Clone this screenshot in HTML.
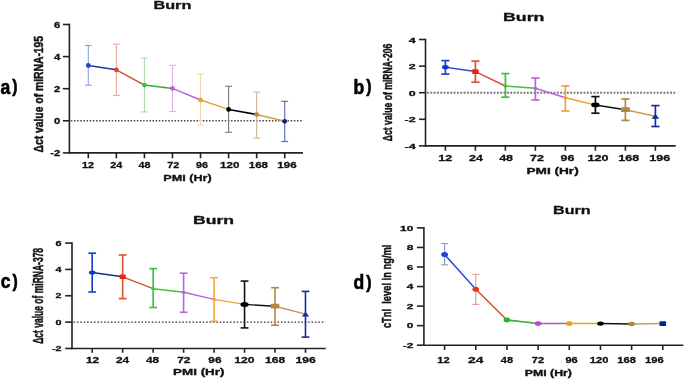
<!DOCTYPE html>
<html><head><meta charset="utf-8"><style>
html,body{margin:0;padding:0;background:#fff;}
svg{display:block;font-family:"Liberation Sans", sans-serif;will-change:transform;filter:blur(0.3px);}
</style></head><body>
<svg width="685" height="379" viewBox="0 0 685 379">
<rect width="685" height="379" fill="#fff"/>
<line x1="70.90" y1="120.80" x2="302.50" y2="120.80" stroke="#444" stroke-width="1.4" stroke-dasharray="1.5 1.64"/>
<line x1="88.30" y1="45.50" x2="88.30" y2="85.20" stroke="#8ea0e4" stroke-width="1.1"/>
<line x1="84.90" y1="45.50" x2="91.70" y2="45.50" stroke="#8ea0e4" stroke-width="1.1"/>
<line x1="84.90" y1="85.20" x2="91.70" y2="85.20" stroke="#8ea0e4" stroke-width="1.1"/>
<line x1="116.36" y1="44.20" x2="116.36" y2="95.50" stroke="#eaa898" stroke-width="1.1"/>
<line x1="112.96" y1="44.20" x2="119.76" y2="44.20" stroke="#eaa898" stroke-width="1.1"/>
<line x1="112.96" y1="95.50" x2="119.76" y2="95.50" stroke="#eaa898" stroke-width="1.1"/>
<line x1="144.42" y1="58.00" x2="144.42" y2="111.90" stroke="#a8dca8" stroke-width="1.1"/>
<line x1="141.02" y1="58.00" x2="147.82" y2="58.00" stroke="#a8dca8" stroke-width="1.1"/>
<line x1="141.02" y1="111.90" x2="147.82" y2="111.90" stroke="#a8dca8" stroke-width="1.1"/>
<line x1="172.48" y1="65.30" x2="172.48" y2="111.50" stroke="#dcb4ec" stroke-width="1.1"/>
<line x1="169.08" y1="65.30" x2="175.88" y2="65.30" stroke="#dcb4ec" stroke-width="1.1"/>
<line x1="169.08" y1="111.50" x2="175.88" y2="111.50" stroke="#dcb4ec" stroke-width="1.1"/>
<line x1="200.54" y1="73.90" x2="200.54" y2="125.00" stroke="#f5d4a8" stroke-width="1.1"/>
<line x1="197.14" y1="73.90" x2="203.94" y2="73.90" stroke="#f5d4a8" stroke-width="1.1"/>
<line x1="197.14" y1="125.00" x2="203.94" y2="125.00" stroke="#f5d4a8" stroke-width="1.1"/>
<line x1="228.60" y1="86.30" x2="228.60" y2="132.30" stroke="#777" stroke-width="1.1"/>
<line x1="225.20" y1="86.30" x2="232.00" y2="86.30" stroke="#777" stroke-width="1.1"/>
<line x1="225.20" y1="132.30" x2="232.00" y2="132.30" stroke="#777" stroke-width="1.1"/>
<line x1="256.66" y1="92.10" x2="256.66" y2="138.10" stroke="#cbb594" stroke-width="1.1"/>
<line x1="253.26" y1="92.10" x2="260.06" y2="92.10" stroke="#cbb594" stroke-width="1.1"/>
<line x1="253.26" y1="138.10" x2="260.06" y2="138.10" stroke="#cbb594" stroke-width="1.1"/>
<line x1="284.72" y1="101.30" x2="284.72" y2="141.50" stroke="#5565b5" stroke-width="1.1"/>
<line x1="281.32" y1="101.30" x2="288.12" y2="101.30" stroke="#5565b5" stroke-width="1.1"/>
<line x1="281.32" y1="141.50" x2="288.12" y2="141.50" stroke="#5565b5" stroke-width="1.1"/>
<line x1="88.30" y1="65.50" x2="116.36" y2="69.80" stroke="#1c3aa0" stroke-width="1.5" stroke-linecap="round"/>
<line x1="116.36" y1="69.80" x2="144.42" y2="85.10" stroke="#d84a30" stroke-width="1.5" stroke-linecap="round"/>
<line x1="144.42" y1="85.10" x2="172.48" y2="88.40" stroke="#2faa3a" stroke-width="1.5" stroke-linecap="round"/>
<line x1="172.48" y1="88.40" x2="200.54" y2="100.00" stroke="#c25ee0" stroke-width="1.5" stroke-linecap="round"/>
<line x1="200.54" y1="100.00" x2="228.60" y2="109.40" stroke="#e8a040" stroke-width="1.5" stroke-linecap="round"/>
<line x1="228.60" y1="109.40" x2="256.66" y2="114.50" stroke="#000" stroke-width="1.5" stroke-linecap="round"/>
<line x1="256.66" y1="114.50" x2="284.72" y2="121.30" stroke="#d0a050" stroke-width="1.5" stroke-linecap="round"/>
<circle cx="88.30" cy="65.50" r="2.4" fill="#2445d8"/>
<circle cx="116.36" cy="69.80" r="2.4" fill="#e83a20"/>
<circle cx="144.42" cy="85.10" r="2.4" fill="#3cc43c"/>
<circle cx="172.48" cy="88.40" r="2.4" fill="#c25ee0"/>
<circle cx="200.54" cy="100.00" r="2.4" fill="#f0a035"/>
<circle cx="228.60" cy="109.40" r="2.4" fill="#000"/>
<circle cx="256.66" cy="114.50" r="2.4" fill="#b8894a"/>
<circle cx="284.72" cy="121.30" r="2.4" fill="#0c2090"/>
<line x1="69.40" y1="23.70" x2="69.40" y2="153.70" stroke="#222" stroke-width="1.6"/>
<line x1="68.60" y1="152.90" x2="303.00" y2="152.90" stroke="#222" stroke-width="1.6"/>
<line x1="62.90" y1="24.50" x2="69.40" y2="24.50" stroke="#222" stroke-width="1.6"/>
<text x="60.3" y="27.599999999999987" font-size="8.3" font-weight="bold" text-anchor="end" fill="#111" stroke="#111" stroke-width="0.3" textLength="6.23" lengthAdjust="spacingAndGlyphs">6</text>
<line x1="62.90" y1="56.60" x2="69.40" y2="56.60" stroke="#222" stroke-width="1.6"/>
<text x="60.3" y="59.699999999999996" font-size="8.3" font-weight="bold" text-anchor="end" fill="#111" stroke="#111" stroke-width="0.3" textLength="6.23" lengthAdjust="spacingAndGlyphs">4</text>
<line x1="62.90" y1="88.70" x2="69.40" y2="88.70" stroke="#222" stroke-width="1.6"/>
<text x="60.3" y="91.79999999999998" font-size="8.3" font-weight="bold" text-anchor="end" fill="#111" stroke="#111" stroke-width="0.3" textLength="6.23" lengthAdjust="spacingAndGlyphs">2</text>
<line x1="62.90" y1="120.80" x2="69.40" y2="120.80" stroke="#222" stroke-width="1.6"/>
<text x="60.3" y="123.89999999999999" font-size="8.3" font-weight="bold" text-anchor="end" fill="#111" stroke="#111" stroke-width="0.3" textLength="6.23" lengthAdjust="spacingAndGlyphs">0</text>
<line x1="62.90" y1="152.90" x2="69.40" y2="152.90" stroke="#222" stroke-width="1.6"/>
<text x="60.3" y="156.0" font-size="8.3" font-weight="bold" text-anchor="end" fill="#111" stroke="#111" stroke-width="0.3" textLength="9.96" lengthAdjust="spacingAndGlyphs">-2</text>
<line x1="88.30" y1="152.90" x2="88.30" y2="158.30" stroke="#222" stroke-width="1.6"/>
<text x="88" y="167.6" font-size="9.7" font-weight="bold" text-anchor="middle" fill="#111" stroke="#111" stroke-width="0.3" textLength="12" lengthAdjust="spacingAndGlyphs">12</text>
<line x1="116.36" y1="152.90" x2="116.36" y2="158.30" stroke="#222" stroke-width="1.6"/>
<text x="116.2" y="167.6" font-size="9.7" font-weight="bold" text-anchor="middle" fill="#111" stroke="#111" stroke-width="0.3" textLength="12" lengthAdjust="spacingAndGlyphs">24</text>
<line x1="144.42" y1="152.90" x2="144.42" y2="158.30" stroke="#222" stroke-width="1.6"/>
<text x="144.5" y="167.6" font-size="9.7" font-weight="bold" text-anchor="middle" fill="#111" stroke="#111" stroke-width="0.3" textLength="12" lengthAdjust="spacingAndGlyphs">48</text>
<line x1="172.48" y1="152.90" x2="172.48" y2="158.30" stroke="#222" stroke-width="1.6"/>
<text x="173.3" y="167.6" font-size="9.7" font-weight="bold" text-anchor="middle" fill="#111" stroke="#111" stroke-width="0.3" textLength="12" lengthAdjust="spacingAndGlyphs">72</text>
<line x1="200.54" y1="152.90" x2="200.54" y2="158.30" stroke="#222" stroke-width="1.6"/>
<text x="201.9" y="167.6" font-size="9.7" font-weight="bold" text-anchor="middle" fill="#111" stroke="#111" stroke-width="0.3" textLength="12" lengthAdjust="spacingAndGlyphs">96</text>
<line x1="228.60" y1="152.90" x2="228.60" y2="158.30" stroke="#222" stroke-width="1.6"/>
<text x="229.7" y="167.6" font-size="9.7" font-weight="bold" text-anchor="middle" fill="#111" stroke="#111" stroke-width="0.3" textLength="19.3" lengthAdjust="spacingAndGlyphs">120</text>
<line x1="256.66" y1="152.90" x2="256.66" y2="158.30" stroke="#222" stroke-width="1.6"/>
<text x="258.4" y="167.6" font-size="9.7" font-weight="bold" text-anchor="middle" fill="#111" stroke="#111" stroke-width="0.3" textLength="19.3" lengthAdjust="spacingAndGlyphs">168</text>
<line x1="284.72" y1="152.90" x2="284.72" y2="158.30" stroke="#222" stroke-width="1.6"/>
<text x="287" y="167.6" font-size="9.7" font-weight="bold" text-anchor="middle" fill="#111" stroke="#111" stroke-width="0.3" textLength="19.3" lengthAdjust="spacingAndGlyphs">196</text>
<text x="187.5" y="180.7" font-size="9.2" font-weight="bold" text-anchor="middle" fill="#111" stroke="#111" stroke-width="0.3" textLength="48.4" lengthAdjust="spacingAndGlyphs">PMI (Hr)</text>
<text x="172.4" y="9.4" font-size="11.6" font-weight="bold" text-anchor="middle" fill="#111" stroke="#111" stroke-width="0.3" textLength="38" lengthAdjust="spacingAndGlyphs">Burn</text>
<text transform="translate(42.8,94.2) rotate(-90)" x="0" y="0" font-size="12" font-weight="bold" text-anchor="middle" fill="#111" stroke="#111" stroke-width="0.45" textLength="116.6" lengthAdjust="spacingAndGlyphs">Δct value of miRNA-195</text>
<text transform="translate(0.5,93.8) scale(0.9,1)" x="0" y="0" font-size="19.5" font-weight="bold" fill="#000" stroke="#000" stroke-width="0.6">a<tspan font-size="17.5" dx="2.2" dy="-1.4">)</tspan></text>
<line x1="427.00" y1="92.70" x2="675.20" y2="92.70" stroke="#777" stroke-width="1.9" stroke-dasharray="1.9 1.43"/>
<line x1="445.40" y1="60.60" x2="445.40" y2="74.10" stroke="#2040d0" stroke-width="1.7"/>
<line x1="441.30" y1="60.60" x2="449.50" y2="60.60" stroke="#2040d0" stroke-width="1.7"/>
<line x1="441.30" y1="74.10" x2="449.50" y2="74.10" stroke="#2040d0" stroke-width="1.7"/>
<line x1="475.40" y1="61.10" x2="475.40" y2="82.20" stroke="#e05030" stroke-width="1.7"/>
<line x1="471.30" y1="61.10" x2="479.50" y2="61.10" stroke="#e05030" stroke-width="1.7"/>
<line x1="471.30" y1="82.20" x2="479.50" y2="82.20" stroke="#e05030" stroke-width="1.7"/>
<line x1="505.40" y1="73.60" x2="505.40" y2="97.20" stroke="#38c038" stroke-width="1.7"/>
<line x1="501.30" y1="73.60" x2="509.50" y2="73.60" stroke="#38c038" stroke-width="1.7"/>
<line x1="501.30" y1="97.20" x2="509.50" y2="97.20" stroke="#38c038" stroke-width="1.7"/>
<line x1="535.40" y1="78.10" x2="535.40" y2="99.90" stroke="#c060e0" stroke-width="1.7"/>
<line x1="531.30" y1="78.10" x2="539.50" y2="78.10" stroke="#c060e0" stroke-width="1.7"/>
<line x1="531.30" y1="99.90" x2="539.50" y2="99.90" stroke="#c060e0" stroke-width="1.7"/>
<line x1="565.40" y1="85.90" x2="565.40" y2="111.00" stroke="#f0a040" stroke-width="1.7"/>
<line x1="561.30" y1="85.90" x2="569.50" y2="85.90" stroke="#f0a040" stroke-width="1.7"/>
<line x1="561.30" y1="111.00" x2="569.50" y2="111.00" stroke="#f0a040" stroke-width="1.7"/>
<line x1="595.40" y1="96.60" x2="595.40" y2="113.20" stroke="#111" stroke-width="1.7"/>
<line x1="591.30" y1="96.60" x2="599.50" y2="96.60" stroke="#111" stroke-width="1.7"/>
<line x1="591.30" y1="113.20" x2="599.50" y2="113.20" stroke="#111" stroke-width="1.7"/>
<line x1="625.40" y1="99.00" x2="625.40" y2="120.40" stroke="#b08840" stroke-width="1.7"/>
<line x1="621.30" y1="99.00" x2="629.50" y2="99.00" stroke="#b08840" stroke-width="1.7"/>
<line x1="621.30" y1="120.40" x2="629.50" y2="120.40" stroke="#b08840" stroke-width="1.7"/>
<line x1="655.40" y1="105.60" x2="655.40" y2="126.50" stroke="#1a2a98" stroke-width="1.7"/>
<line x1="651.30" y1="105.60" x2="659.50" y2="105.60" stroke="#1a2a98" stroke-width="1.7"/>
<line x1="651.30" y1="126.50" x2="659.50" y2="126.50" stroke="#1a2a98" stroke-width="1.7"/>
<line x1="445.40" y1="67.20" x2="475.40" y2="71.60" stroke="#3050d0" stroke-width="1.5" stroke-linecap="round"/>
<line x1="475.40" y1="71.60" x2="505.40" y2="86.00" stroke="#e05030" stroke-width="1.5" stroke-linecap="round"/>
<line x1="505.40" y1="86.00" x2="535.40" y2="88.20" stroke="#3cc43c" stroke-width="1.5" stroke-linecap="round"/>
<line x1="535.40" y1="88.20" x2="565.40" y2="97.80" stroke="#c25ee0" stroke-width="1.5" stroke-linecap="round"/>
<line x1="565.40" y1="97.80" x2="595.40" y2="104.90" stroke="#f0a035" stroke-width="1.5" stroke-linecap="round"/>
<line x1="595.40" y1="104.90" x2="625.40" y2="109.70" stroke="#111" stroke-width="1.5" stroke-linecap="round"/>
<line x1="625.40" y1="109.70" x2="655.40" y2="116.30" stroke="#d09a48" stroke-width="1.5" stroke-linecap="round"/>
<ellipse cx="445.40" cy="67.20" rx="3.4" ry="2.1" fill="#1030d8"/>
<rect x="472.20" y="69.30" width="6.4" height="4.6" rx="0.6" fill="#f02010"/>
<ellipse cx="505.40" cy="86.00" rx="2.0" ry="1.5" fill="#3cc43c"/>
<ellipse cx="535.40" cy="88.20" rx="2.0" ry="1.5" fill="#c25ee0"/>
<ellipse cx="565.40" cy="97.80" rx="2.0" ry="1.5" fill="#f0a035"/>
<ellipse cx="595.40" cy="104.90" rx="4.2" ry="2.4" fill="#000"/>
<rect x="621.00" y="107.30" width="8.8" height="4.8" rx="0.6" fill="#b08840"/>
<path d="M655.40,113.90 L659.30,118.70 L651.50,118.70Z" fill="#102a98"/>
<line x1="425.50" y1="38.70" x2="425.50" y2="146.70" stroke="#222" stroke-width="1.6"/>
<line x1="424.70" y1="145.90" x2="675.70" y2="145.90" stroke="#222" stroke-width="1.6"/>
<line x1="419.00" y1="39.50" x2="425.50" y2="39.50" stroke="#222" stroke-width="1.6"/>
<text x="415.6" y="42.5" font-size="6.8" font-weight="bold" text-anchor="end" fill="#111" stroke="#111" stroke-width="0.3" textLength="6.88" lengthAdjust="spacingAndGlyphs">4</text>
<line x1="419.00" y1="66.10" x2="425.50" y2="66.10" stroke="#222" stroke-width="1.6"/>
<text x="415.6" y="69.1" font-size="6.8" font-weight="bold" text-anchor="end" fill="#111" stroke="#111" stroke-width="0.3" textLength="6.88" lengthAdjust="spacingAndGlyphs">2</text>
<line x1="419.00" y1="92.70" x2="425.50" y2="92.70" stroke="#222" stroke-width="1.6"/>
<text x="415.6" y="95.7" font-size="6.8" font-weight="bold" text-anchor="end" fill="#111" stroke="#111" stroke-width="0.3" textLength="6.88" lengthAdjust="spacingAndGlyphs">0</text>
<line x1="419.00" y1="119.30" x2="425.50" y2="119.30" stroke="#222" stroke-width="1.6"/>
<text x="415.6" y="122.30000000000001" font-size="6.8" font-weight="bold" text-anchor="end" fill="#111" stroke="#111" stroke-width="0.3" textLength="11.0" lengthAdjust="spacingAndGlyphs">-2</text>
<line x1="419.00" y1="145.90" x2="425.50" y2="145.90" stroke="#222" stroke-width="1.6"/>
<text x="415.6" y="148.9" font-size="6.8" font-weight="bold" text-anchor="end" fill="#111" stroke="#111" stroke-width="0.3" textLength="11.0" lengthAdjust="spacingAndGlyphs">-4</text>
<line x1="445.40" y1="145.90" x2="445.40" y2="150.80" stroke="#222" stroke-width="1.6"/>
<text x="445.2" y="161.3" font-size="9.7" font-weight="bold" text-anchor="middle" fill="#111" stroke="#111" stroke-width="0.3" textLength="13.9" lengthAdjust="spacingAndGlyphs">12</text>
<line x1="475.40" y1="145.90" x2="475.40" y2="150.80" stroke="#222" stroke-width="1.6"/>
<text x="475.9" y="161.3" font-size="9.7" font-weight="bold" text-anchor="middle" fill="#111" stroke="#111" stroke-width="0.3" textLength="13.9" lengthAdjust="spacingAndGlyphs">24</text>
<line x1="505.40" y1="145.90" x2="505.40" y2="150.80" stroke="#222" stroke-width="1.6"/>
<text x="506.1" y="161.3" font-size="9.7" font-weight="bold" text-anchor="middle" fill="#111" stroke="#111" stroke-width="0.3" textLength="13.9" lengthAdjust="spacingAndGlyphs">48</text>
<line x1="535.40" y1="145.90" x2="535.40" y2="150.80" stroke="#222" stroke-width="1.6"/>
<text x="537" y="161.3" font-size="9.7" font-weight="bold" text-anchor="middle" fill="#111" stroke="#111" stroke-width="0.3" textLength="13.9" lengthAdjust="spacingAndGlyphs">72</text>
<line x1="565.40" y1="145.90" x2="565.40" y2="150.80" stroke="#222" stroke-width="1.6"/>
<text x="567.5" y="161.3" font-size="9.7" font-weight="bold" text-anchor="middle" fill="#111" stroke="#111" stroke-width="0.3" textLength="13.9" lengthAdjust="spacingAndGlyphs">96</text>
<line x1="595.40" y1="145.90" x2="595.40" y2="150.80" stroke="#222" stroke-width="1.6"/>
<text x="598" y="161.3" font-size="9.7" font-weight="bold" text-anchor="middle" fill="#111" stroke="#111" stroke-width="0.3" textLength="21" lengthAdjust="spacingAndGlyphs">120</text>
<line x1="625.40" y1="145.90" x2="625.40" y2="150.80" stroke="#222" stroke-width="1.6"/>
<text x="628.7" y="161.3" font-size="9.7" font-weight="bold" text-anchor="middle" fill="#111" stroke="#111" stroke-width="0.3" textLength="21" lengthAdjust="spacingAndGlyphs">168</text>
<line x1="655.40" y1="145.90" x2="655.40" y2="150.80" stroke="#222" stroke-width="1.6"/>
<text x="659.8" y="161.3" font-size="9.7" font-weight="bold" text-anchor="middle" fill="#111" stroke="#111" stroke-width="0.3" textLength="21" lengthAdjust="spacingAndGlyphs">196</text>
<text x="552.6" y="173.6" font-size="8.2" font-weight="bold" text-anchor="middle" fill="#111" stroke="#111" stroke-width="0.3" textLength="52.3" lengthAdjust="spacingAndGlyphs">PMI (Hr)</text>
<text x="523.7" y="20.8" font-size="11.6" font-weight="bold" text-anchor="middle" fill="#111" stroke="#111" stroke-width="0.3" textLength="41.4" lengthAdjust="spacingAndGlyphs">Burn</text>
<text transform="translate(392.0,92.4) rotate(-90)" x="0" y="0" font-size="13.5" font-weight="bold" text-anchor="middle" fill="#111" stroke="#111" stroke-width="0.45" textLength="97.6" lengthAdjust="spacingAndGlyphs">Δct value of miRNA-206</text>
<text transform="translate(353.5,93.8) scale(0.9,1)" x="0" y="0" font-size="19.5" font-weight="bold" fill="#000" stroke="#000" stroke-width="0.6">b<tspan font-size="17.5" dx="2.2" dy="-1.4">)</tspan></text>
<line x1="73.50" y1="322.10" x2="325.30" y2="322.10" stroke="#333" stroke-width="1.4" stroke-dasharray="1.6 1.8"/>
<line x1="92.20" y1="253.20" x2="92.20" y2="292.00" stroke="#1a3ac8" stroke-width="1.6"/>
<line x1="88.30" y1="253.20" x2="96.10" y2="253.20" stroke="#1a3ac8" stroke-width="1.6"/>
<line x1="88.30" y1="292.00" x2="96.10" y2="292.00" stroke="#1a3ac8" stroke-width="1.6"/>
<line x1="122.67" y1="255.00" x2="122.67" y2="298.60" stroke="#d85030" stroke-width="1.6"/>
<line x1="118.77" y1="255.00" x2="126.57" y2="255.00" stroke="#d85030" stroke-width="1.6"/>
<line x1="118.77" y1="298.60" x2="126.57" y2="298.60" stroke="#d85030" stroke-width="1.6"/>
<line x1="153.14" y1="268.60" x2="153.14" y2="307.50" stroke="#38c038" stroke-width="1.6"/>
<line x1="149.24" y1="268.60" x2="157.04" y2="268.60" stroke="#38c038" stroke-width="1.6"/>
<line x1="149.24" y1="307.50" x2="157.04" y2="307.50" stroke="#38c038" stroke-width="1.6"/>
<line x1="183.61" y1="273.20" x2="183.61" y2="312.30" stroke="#c060e0" stroke-width="1.6"/>
<line x1="179.71" y1="273.20" x2="187.51" y2="273.20" stroke="#c060e0" stroke-width="1.6"/>
<line x1="179.71" y1="312.30" x2="187.51" y2="312.30" stroke="#c060e0" stroke-width="1.6"/>
<line x1="214.08" y1="277.70" x2="214.08" y2="321.30" stroke="#f0a840" stroke-width="1.6"/>
<line x1="210.18" y1="277.70" x2="217.98" y2="277.70" stroke="#f0a840" stroke-width="1.6"/>
<line x1="210.18" y1="321.30" x2="217.98" y2="321.30" stroke="#f0a840" stroke-width="1.6"/>
<line x1="244.55" y1="281.10" x2="244.55" y2="327.90" stroke="#111" stroke-width="1.6"/>
<line x1="240.65" y1="281.10" x2="248.45" y2="281.10" stroke="#111" stroke-width="1.6"/>
<line x1="240.65" y1="327.90" x2="248.45" y2="327.90" stroke="#111" stroke-width="1.6"/>
<line x1="275.02" y1="287.70" x2="275.02" y2="325.20" stroke="#b08840" stroke-width="1.6"/>
<line x1="271.12" y1="287.70" x2="278.92" y2="287.70" stroke="#b08840" stroke-width="1.6"/>
<line x1="271.12" y1="325.20" x2="278.92" y2="325.20" stroke="#b08840" stroke-width="1.6"/>
<line x1="305.49" y1="291.40" x2="305.49" y2="337.10" stroke="#1a2a98" stroke-width="1.6"/>
<line x1="301.59" y1="291.40" x2="309.39" y2="291.40" stroke="#1a2a98" stroke-width="1.6"/>
<line x1="301.59" y1="337.10" x2="309.39" y2="337.10" stroke="#1a2a98" stroke-width="1.6"/>
<line x1="92.20" y1="272.50" x2="122.67" y2="276.80" stroke="#1a2a90" stroke-width="1.4" stroke-linecap="round"/>
<line x1="122.67" y1="276.80" x2="153.14" y2="288.70" stroke="#d85030" stroke-width="1.4" stroke-linecap="round"/>
<line x1="153.14" y1="288.70" x2="183.61" y2="292.20" stroke="#3cc43c" stroke-width="1.4" stroke-linecap="round"/>
<line x1="183.61" y1="292.20" x2="214.08" y2="299.40" stroke="#c25ee0" stroke-width="1.4" stroke-linecap="round"/>
<line x1="214.08" y1="299.40" x2="244.55" y2="304.40" stroke="#f0a035" stroke-width="1.4" stroke-linecap="round"/>
<line x1="244.55" y1="304.40" x2="275.02" y2="306.20" stroke="#111" stroke-width="1.4" stroke-linecap="round"/>
<line x1="275.02" y1="306.20" x2="305.49" y2="314.10" stroke="#c09a50" stroke-width="1.4" stroke-linecap="round"/>
<ellipse cx="92.20" cy="272.50" rx="3.3" ry="2.1" fill="#1535c8"/>
<rect x="119.67" y="274.60" width="6.0" height="4.4" rx="0.6" fill="#f02010"/>
<ellipse cx="153.14" cy="288.70" rx="2.0" ry="1.5" fill="#3cc43c"/>
<ellipse cx="183.61" cy="292.20" rx="2.0" ry="1.5" fill="#c25ee0"/>
<ellipse cx="214.08" cy="299.40" rx="2.0" ry="1.5" fill="#f0a035"/>
<ellipse cx="244.55" cy="304.40" rx="4.1" ry="2.5" fill="#000"/>
<rect x="270.72" y="303.80" width="8.6" height="4.8" rx="0.6" fill="#b08840"/>
<path d="M305.49,311.70 L309.19,316.50 L301.79,316.50Z" fill="#102a98"/>
<line x1="72.00" y1="242.28" x2="72.00" y2="349.24" stroke="#222" stroke-width="1.6"/>
<line x1="71.20" y1="348.44" x2="325.80" y2="348.44" stroke="#222" stroke-width="1.6"/>
<line x1="65.20" y1="243.08" x2="72.00" y2="243.08" stroke="#222" stroke-width="1.6"/>
<text x="61.5" y="245.68000000000004" font-size="7.1" font-weight="bold" text-anchor="end" fill="#111" stroke="#111" stroke-width="0.3" textLength="6.0" lengthAdjust="spacingAndGlyphs">6</text>
<line x1="65.20" y1="269.42" x2="72.00" y2="269.42" stroke="#222" stroke-width="1.6"/>
<text x="61.5" y="272.02000000000004" font-size="7.1" font-weight="bold" text-anchor="end" fill="#111" stroke="#111" stroke-width="0.3" textLength="6.0" lengthAdjust="spacingAndGlyphs">4</text>
<line x1="65.20" y1="295.76" x2="72.00" y2="295.76" stroke="#222" stroke-width="1.6"/>
<text x="61.5" y="298.36000000000007" font-size="7.1" font-weight="bold" text-anchor="end" fill="#111" stroke="#111" stroke-width="0.3" textLength="6.0" lengthAdjust="spacingAndGlyphs">2</text>
<line x1="65.20" y1="322.10" x2="72.00" y2="322.10" stroke="#222" stroke-width="1.6"/>
<text x="61.5" y="324.70000000000005" font-size="7.1" font-weight="bold" text-anchor="end" fill="#111" stroke="#111" stroke-width="0.3" textLength="6.0" lengthAdjust="spacingAndGlyphs">0</text>
<line x1="65.20" y1="348.44" x2="72.00" y2="348.44" stroke="#222" stroke-width="1.6"/>
<text x="61.5" y="351.04" font-size="7.1" font-weight="bold" text-anchor="end" fill="#111" stroke="#111" stroke-width="0.3" textLength="9.59" lengthAdjust="spacingAndGlyphs">-2</text>
<line x1="92.20" y1="348.44" x2="92.20" y2="352.74" stroke="#222" stroke-width="1.6"/>
<text x="92.5" y="362.6" font-size="9.7" font-weight="bold" text-anchor="middle" fill="#111" stroke="#111" stroke-width="0.3" textLength="13.2" lengthAdjust="spacingAndGlyphs">12</text>
<line x1="122.67" y1="348.44" x2="122.67" y2="352.74" stroke="#222" stroke-width="1.6"/>
<text x="122.5" y="362.6" font-size="9.7" font-weight="bold" text-anchor="middle" fill="#111" stroke="#111" stroke-width="0.3" textLength="13.2" lengthAdjust="spacingAndGlyphs">24</text>
<line x1="153.14" y1="348.44" x2="153.14" y2="352.74" stroke="#222" stroke-width="1.6"/>
<text x="152.5" y="362.6" font-size="9.7" font-weight="bold" text-anchor="middle" fill="#111" stroke="#111" stroke-width="0.3" textLength="13.2" lengthAdjust="spacingAndGlyphs">48</text>
<line x1="183.61" y1="348.44" x2="183.61" y2="352.74" stroke="#222" stroke-width="1.6"/>
<text x="183.8" y="362.6" font-size="9.7" font-weight="bold" text-anchor="middle" fill="#111" stroke="#111" stroke-width="0.3" textLength="13.2" lengthAdjust="spacingAndGlyphs">72</text>
<line x1="214.08" y1="348.44" x2="214.08" y2="352.74" stroke="#222" stroke-width="1.6"/>
<text x="214.9" y="362.6" font-size="9.7" font-weight="bold" text-anchor="middle" fill="#111" stroke="#111" stroke-width="0.3" textLength="13.2" lengthAdjust="spacingAndGlyphs">96</text>
<line x1="244.55" y1="348.44" x2="244.55" y2="352.74" stroke="#222" stroke-width="1.6"/>
<text x="244.3" y="362.6" font-size="9.7" font-weight="bold" text-anchor="middle" fill="#111" stroke="#111" stroke-width="0.3" textLength="20.2" lengthAdjust="spacingAndGlyphs">120</text>
<line x1="275.02" y1="348.44" x2="275.02" y2="352.74" stroke="#222" stroke-width="1.6"/>
<text x="275.1" y="362.6" font-size="9.7" font-weight="bold" text-anchor="middle" fill="#111" stroke="#111" stroke-width="0.3" textLength="20.2" lengthAdjust="spacingAndGlyphs">168</text>
<line x1="305.49" y1="348.44" x2="305.49" y2="352.74" stroke="#222" stroke-width="1.6"/>
<text x="305.6" y="362.6" font-size="9.7" font-weight="bold" text-anchor="middle" fill="#111" stroke="#111" stroke-width="0.3" textLength="20.2" lengthAdjust="spacingAndGlyphs">196</text>
<text x="198.8" y="375.2" font-size="8.4" font-weight="bold" text-anchor="middle" fill="#111" stroke="#111" stroke-width="0.3" textLength="51.4" lengthAdjust="spacingAndGlyphs">PMI (Hr)</text>
<text x="213.5" y="223.8" font-size="11.2" font-weight="bold" text-anchor="middle" fill="#111" stroke="#111" stroke-width="0.3" textLength="41" lengthAdjust="spacingAndGlyphs">Burn</text>
<text transform="translate(42.6,295.85) rotate(-90)" x="0" y="0" font-size="14" font-weight="bold" text-anchor="middle" fill="#111" stroke="#111" stroke-width="0.45" textLength="95.9" lengthAdjust="spacingAndGlyphs">Δct value of miRNA-378</text>
<text transform="translate(0.8,288.3) scale(0.9,1)" x="0" y="0" font-size="19.5" font-weight="bold" fill="#000" stroke="#000" stroke-width="0.6">c<tspan font-size="17.5" dx="2.2" dy="-1.4">)</tspan></text>
<line x1="444.60" y1="243.50" x2="444.60" y2="264.80" stroke="#8898c8" stroke-width="1.1"/>
<line x1="441.10" y1="243.50" x2="448.10" y2="243.50" stroke="#8898c8" stroke-width="1.1"/>
<line x1="441.10" y1="264.80" x2="448.10" y2="264.80" stroke="#8898c8" stroke-width="1.1"/>
<line x1="475.77" y1="274.40" x2="475.77" y2="304.40" stroke="#d8a090" stroke-width="1.1"/>
<line x1="472.27" y1="274.40" x2="479.27" y2="274.40" stroke="#d8a090" stroke-width="1.1"/>
<line x1="472.27" y1="304.40" x2="479.27" y2="304.40" stroke="#d8a090" stroke-width="1.1"/>
<line x1="444.60" y1="254.50" x2="475.77" y2="289.20" stroke="#2848d0" stroke-width="1.5" stroke-linecap="round"/>
<line x1="475.77" y1="289.20" x2="506.94" y2="320.00" stroke="#e04a28" stroke-width="1.5" stroke-linecap="round"/>
<line x1="506.94" y1="320.00" x2="538.11" y2="323.60" stroke="#38b040" stroke-width="1.5" stroke-linecap="round"/>
<line x1="538.11" y1="323.60" x2="569.28" y2="323.60" stroke="#a858c8" stroke-width="1.5" stroke-linecap="round"/>
<line x1="569.28" y1="323.60" x2="600.45" y2="323.60" stroke="#f0a035" stroke-width="1.5" stroke-linecap="round"/>
<line x1="600.45" y1="323.60" x2="631.62" y2="324.00" stroke="#111" stroke-width="1.5" stroke-linecap="round"/>
<line x1="631.62" y1="324.00" x2="662.79" y2="323.60" stroke="#c8a060" stroke-width="1.5" stroke-linecap="round"/>
<ellipse cx="444.60" cy="254.50" rx="3.4" ry="2.5" fill="#1c40e0"/>
<ellipse cx="475.77" cy="289.20" rx="3.3" ry="2.5" fill="#f03018"/>
<ellipse cx="506.94" cy="320.00" rx="3.4" ry="2.4" fill="#20b820"/>
<ellipse cx="538.11" cy="323.60" rx="3.3" ry="2.3" fill="#c040e0"/>
<ellipse cx="569.28" cy="323.60" rx="3.3" ry="2.3" fill="#f09a20"/>
<ellipse cx="600.45" cy="323.60" rx="3.3" ry="2.2" fill="#000"/>
<ellipse cx="631.62" cy="324.00" rx="3.3" ry="2.2" fill="#b08840"/>
<rect x="659.49" y="321.30" width="6.6" height="4.6" rx="0.6" fill="#0c2090"/>
<line x1="423.90" y1="227.10" x2="423.90" y2="346.00" stroke="#222" stroke-width="1.6"/>
<line x1="423.10" y1="345.20" x2="683.30" y2="345.20" stroke="#222" stroke-width="1.6"/>
<line x1="416.90" y1="227.90" x2="423.90" y2="227.90" stroke="#222" stroke-width="1.6"/>
<text x="413.3" y="230.59999999999997" font-size="7.7" font-weight="bold" text-anchor="end" fill="#111" stroke="#111" stroke-width="0.3" textLength="13.19" lengthAdjust="spacingAndGlyphs">10</text>
<line x1="416.90" y1="247.45" x2="423.90" y2="247.45" stroke="#222" stroke-width="1.6"/>
<text x="413.3" y="250.14999999999998" font-size="7.7" font-weight="bold" text-anchor="end" fill="#111" stroke="#111" stroke-width="0.3" textLength="6.59" lengthAdjust="spacingAndGlyphs">8</text>
<line x1="416.90" y1="267.00" x2="423.90" y2="267.00" stroke="#222" stroke-width="1.6"/>
<text x="413.3" y="269.7" font-size="7.7" font-weight="bold" text-anchor="end" fill="#111" stroke="#111" stroke-width="0.3" textLength="6.59" lengthAdjust="spacingAndGlyphs">6</text>
<line x1="416.90" y1="286.55" x2="423.90" y2="286.55" stroke="#222" stroke-width="1.6"/>
<text x="413.3" y="289.24999999999994" font-size="7.7" font-weight="bold" text-anchor="end" fill="#111" stroke="#111" stroke-width="0.3" textLength="6.59" lengthAdjust="spacingAndGlyphs">4</text>
<line x1="416.90" y1="306.10" x2="423.90" y2="306.10" stroke="#222" stroke-width="1.6"/>
<text x="413.3" y="308.79999999999995" font-size="7.7" font-weight="bold" text-anchor="end" fill="#111" stroke="#111" stroke-width="0.3" textLength="6.59" lengthAdjust="spacingAndGlyphs">2</text>
<line x1="416.90" y1="325.65" x2="423.90" y2="325.65" stroke="#222" stroke-width="1.6"/>
<text x="413.3" y="328.34999999999997" font-size="7.7" font-weight="bold" text-anchor="end" fill="#111" stroke="#111" stroke-width="0.3" textLength="6.59" lengthAdjust="spacingAndGlyphs">0</text>
<line x1="416.90" y1="345.20" x2="423.90" y2="345.20" stroke="#222" stroke-width="1.6"/>
<text x="413.3" y="347.9" font-size="7.7" font-weight="bold" text-anchor="end" fill="#111" stroke="#111" stroke-width="0.3" textLength="10.54" lengthAdjust="spacingAndGlyphs">-2</text>
<line x1="444.60" y1="345.20" x2="444.60" y2="350.00" stroke="#222" stroke-width="1.6"/>
<text x="443.5" y="362.6" font-size="9.7" font-weight="bold" text-anchor="middle" fill="#111" stroke="#111" stroke-width="0.3" textLength="12.3" lengthAdjust="spacingAndGlyphs">12</text>
<line x1="475.77" y1="345.20" x2="475.77" y2="350.00" stroke="#222" stroke-width="1.6"/>
<text x="475.7" y="362.6" font-size="9.7" font-weight="bold" text-anchor="middle" fill="#111" stroke="#111" stroke-width="0.3" textLength="15.4" lengthAdjust="spacingAndGlyphs">24</text>
<line x1="506.94" y1="345.20" x2="506.94" y2="350.00" stroke="#222" stroke-width="1.6"/>
<text x="506.9" y="362.6" font-size="9.7" font-weight="bold" text-anchor="middle" fill="#111" stroke="#111" stroke-width="0.3" textLength="12.3" lengthAdjust="spacingAndGlyphs">48</text>
<line x1="538.11" y1="345.20" x2="538.11" y2="350.00" stroke="#222" stroke-width="1.6"/>
<text x="538" y="362.6" font-size="9.7" font-weight="bold" text-anchor="middle" fill="#111" stroke="#111" stroke-width="0.3" textLength="12.3" lengthAdjust="spacingAndGlyphs">72</text>
<line x1="569.28" y1="345.20" x2="569.28" y2="350.00" stroke="#222" stroke-width="1.6"/>
<text x="571.6" y="362.6" font-size="9.7" font-weight="bold" text-anchor="middle" fill="#111" stroke="#111" stroke-width="0.3" textLength="12.3" lengthAdjust="spacingAndGlyphs">96</text>
<line x1="600.45" y1="345.20" x2="600.45" y2="350.00" stroke="#222" stroke-width="1.6"/>
<text x="599.1" y="362.6" font-size="9.7" font-weight="bold" text-anchor="middle" fill="#111" stroke="#111" stroke-width="0.3" textLength="18.7" lengthAdjust="spacingAndGlyphs">120</text>
<line x1="631.62" y1="345.20" x2="631.62" y2="350.00" stroke="#222" stroke-width="1.6"/>
<text x="626.6" y="362.6" font-size="9.7" font-weight="bold" text-anchor="middle" fill="#111" stroke="#111" stroke-width="0.3" textLength="18.7" lengthAdjust="spacingAndGlyphs">168</text>
<line x1="662.79" y1="345.20" x2="662.79" y2="350.00" stroke="#222" stroke-width="1.6"/>
<text x="654.3" y="362.6" font-size="9.7" font-weight="bold" text-anchor="middle" fill="#111" stroke="#111" stroke-width="0.3" textLength="18.7" lengthAdjust="spacingAndGlyphs">196</text>
<text x="548.4" y="375.6" font-size="8.4" font-weight="bold" text-anchor="middle" fill="#111" stroke="#111" stroke-width="0.3" textLength="47.1" lengthAdjust="spacingAndGlyphs">PMI (Hr)</text>
<text x="571.8" y="213.8" font-size="11.6" font-weight="bold" text-anchor="middle" fill="#111" stroke="#111" stroke-width="0.3" textLength="37.6" lengthAdjust="spacingAndGlyphs">Burn</text>
<text transform="translate(391.0,286.35) rotate(-90)" x="0" y="0" font-size="13.5" font-weight="bold" text-anchor="middle" fill="#111" stroke="#111" stroke-width="0.45" textLength="83.5" lengthAdjust="spacingAndGlyphs">cTnI&#160; level in ng/ml</text>
<text transform="translate(353.5,289.3) scale(0.9,1)" x="0" y="0" font-size="19.5" font-weight="bold" fill="#000" stroke="#000" stroke-width="0.6">d<tspan font-size="17.5" dx="2.2" dy="-1.4">)</tspan></text>
</svg>
</body></html>
